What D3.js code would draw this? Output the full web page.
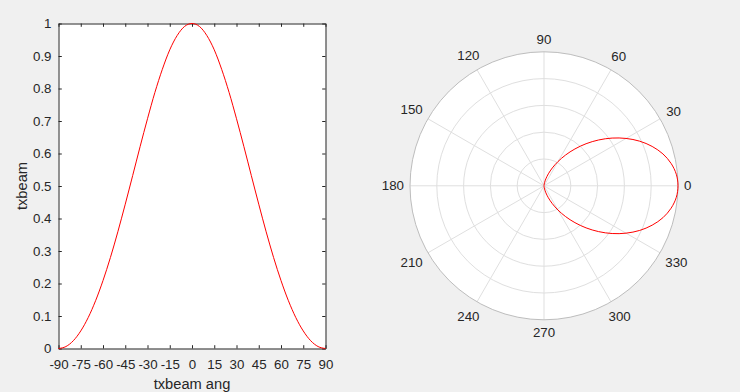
<!DOCTYPE html>
<html>
<head>
<meta charset="utf-8">
<script src="https://cdn.jsdelivr.net/npm/d3@7"></script>
<style>
  html, body { margin: 0; padding: 0; background: #f0f0f0; }
  text { font-family: 'Liberation Sans', Arial, Helvetica, sans-serif; fill: #262626; }
</style>
</head>
<body>
<div id="fig"></div>
<script>
/* global d3 */

// beam angle (deg) and beam value
let beamAng = [-90, -85, -80, -75, -70, -65, -60, -55, -50, -45, -40, -35, -30, -25, -20, -15, -10, -5,
  0, 5, 10, 15, 20, 25, 30, 35, 40, 45, 50, 55, 60, 65, 70, 75, 80, 85, 90]
let txbeam = [0, 0.006, 0.024, 0.054, 0.095, 0.147, 0.209, 0.280, 0.359, 0.444, 0.532, 0.621, 0.707, 0.788, 0.859, 0.919, 0.963, 0.991,
  1, 0.991, 0.963, 0.919, 0.859, 0.788, 0.707, 0.621, 0.532, 0.444, 0.359, 0.280, 0.209, 0.147, 0.095, 0.054, 0.024, 0.006, 0]

let xTicks = [-90, -75, -60, -45, -30, -15, 0, 15, 30, 45, 60, 75, 90]
let yTicks = [0, 0.1, 0.2, 0.3, 0.4, 0.5, 0.6, 0.7, 0.8, 0.9, 1]
let thetaTicks = [0, 30, 60, 90, 120, 150, 180, 210, 240, 270, 300, 330]
let rTicks = [0.2, 0.4, 0.6, 0.8, 1]

let lineC = '#ff0000'
let axisC = '#262626'
let gridC = '#dfdfdf'
let rimC = '#bdbdbd'

var width = 740
var height = 392

var svg = d3.select('#fig').append('svg')
  .attr('width', width)
  .attr('height', height)

svg.append('rect')
  .attr('width', width)
  .attr('height', height)
  .attr('fill', '#f0f0f0')

var data = beamAng.map((a, i) => ({ ang: a, v: txbeam[i] }))

// ----------------------------------------
// Left: cartesian plot
// ----------------------------------------

var axLeft = 58.5
var axRight = 325.5
var axTop = 23.5
var axBottom = 348.5

var x = d3.scaleLinear().domain([-90, 90]).range([axLeft, axRight])
var y = d3.scaleLinear().domain([0, 1]).range([axBottom, axTop])

svg.append('rect')
  .attr('x', axLeft)
  .attr('y', axTop)
  .attr('width', axRight - axLeft)
  .attr('height', axBottom - axTop)
  .attr('fill', '#fff')

var fmt = d => String(+d.toFixed(1))

var xAxis = svg.append('g')
  .attr('transform', 'translate(0,' + axBottom + ')')
  .call(d3.axisBottom(x).tickValues(xTicks).tickSizeInner(-3.3).tickSizeOuter(0).tickPadding(11).tickFormat(fmt))
var xAxisTop = svg.append('g')
  .attr('transform', 'translate(0,' + axTop + ')')
  .call(d3.axisTop(x).tickValues(xTicks).tickSizeInner(-3.3).tickSizeOuter(0).tickFormat(''))
var yAxis = svg.append('g')
  .attr('transform', 'translate(' + axLeft + ',0)')
  .call(d3.axisLeft(y).tickValues(yTicks).tickSizeInner(-3.3).tickSizeOuter(0).tickPadding(7).tickFormat(fmt))
var yAxisRight = svg.append('g')
  .attr('transform', 'translate(' + axRight + ',0)')
  .call(d3.axisRight(y).tickValues(yTicks).tickSizeInner(-3.3).tickSizeOuter(0).tickFormat(''))

;[xAxis, xAxisTop, yAxis, yAxisRight].forEach(g => {
  g.selectAll('path, line').attr('stroke', axisC)
  g.selectAll('text')
    .style('font-size', '13.3px')
    .attr('fill', axisC)
})

svg.append('path')
  .datum(data)
  .attr('fill', 'none')
  .attr('stroke', lineC)
  .attr('stroke-width', 1)
  .attr('d', d3.line()
    .x(d => x(d.ang))
    .y(d => y(d.v))
    .curve(d3.curveMonotoneX))

svg.append('text')
  .attr('x', (axLeft + axRight) / 2)
  .attr('y', 388.5)
  .style('text-anchor', 'middle')
  .style('font-size', '14.67px')
  .text('txbeam ang')

svg.append('text')
  .attr('transform', 'translate(27,' + (axTop + axBottom) / 2 + ') rotate(-90)')
  .style('text-anchor', 'middle')
  .style('font-size', '14.67px')
  .text('txbeam')

// ----------------------------------------
// Right: polar plot
// ----------------------------------------

var cx = 544
var cy = 185.8
var R = 134

var r = d3.scaleLinear().domain([0, 1]).range([0, R])
var polar = svg.append('g').attr('transform', 'translate(' + cx + ',' + cy + ')')

polar.append('circle')
  .attr('r', R)
  .attr('fill', '#fff')

polar.selectAll('circle.ring')
  .data(rTicks.slice(0, -1))
  .enter().append('circle')
    .attr('class', 'ring')
    .attr('r', d => r(d))
    .attr('fill', 'none')
    .attr('stroke', gridC)

polar.selectAll('line.spoke')
  .data(thetaTicks)
  .enter().append('line')
    .attr('class', 'spoke')
    .attr('x2', d => R * Math.cos(d * Math.PI / 180))
    .attr('y2', d => -R * Math.sin(d * Math.PI / 180))
    .attr('stroke', gridC)

polar.append('circle')
  .attr('r', r(rTicks[rTicks.length - 1]))
  .attr('fill', 'none')
  .attr('stroke', rimC)

polar.selectAll('text.theta')
  .data(thetaTicks)
  .enter().append('text')
    .attr('class', 'theta')
    .style('font-size', '13.3px')
    .style('text-anchor', 'middle')
    .attr('dy', '0.35em')
    .text(d => d)
    .each(function (d) {
      let t = d * Math.PI / 180
      let w = this.getComputedTextLength()
      let off = R + 6 + Math.abs(Math.cos(t)) * w / 2 + Math.abs(Math.sin(t)) * 6.5
      d3.select(this)
        .attr('x', off * Math.cos(t))
        .attr('y', -off * Math.sin(t))
    })

polar.append('path')
  .datum(data)
  .attr('fill', 'none')
  .attr('stroke', lineC)
  .attr('stroke-width', 1)
  .attr('d', d3.lineRadial()
    .angle(d => Math.PI / 2 - d.ang * Math.PI / 180)
    .radius(d => r(d.v))
    .curve(d3.curveCatmullRom))
</script>
</body>
</html>
